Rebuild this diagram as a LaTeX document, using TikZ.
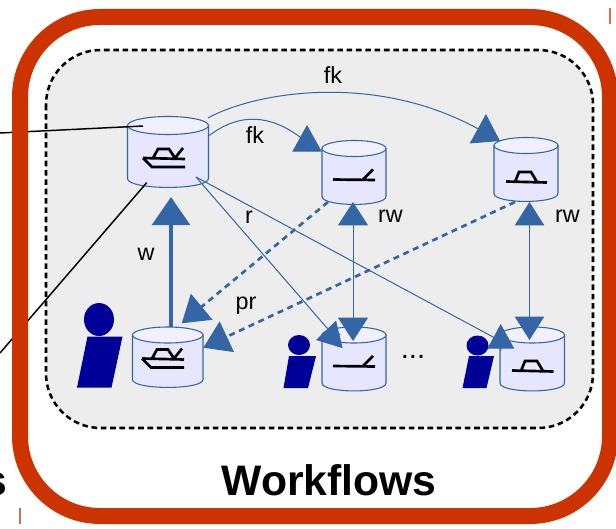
\documentclass[tikz,border=0pt]{standalone}
\usepackage{fontspec}
\setmainfont{Liberation Sans}
\usepackage{tikz}
\usetikzlibrary{arrows.meta}

\definecolor{framered}{HTML}{CC3300}
\definecolor{linkblue}{HTML}{3465A4}
\definecolor{userblue}{HTML}{000099}
\definecolor{panelgray}{HTML}{EDEDED}
\definecolor{dbbody}{HTML}{E6E6FF}
\definecolor{dbtop}{HTML}{F0F0FF}

\tikzset{
        dbline/.style={draw=linkblue, line width=.8pt},
        glyph/.style={line width=2pt, black},
        user/.style={fill=userblue, draw=none},
        link/.style={linkblue, line width=.75pt},
        dlink/.style={linkblue, line width=2pt, dash pattern=on 4.5pt off 3.5pt},
        bighead/.style={-{Triangle[length=19pt, width=25pt]}},
        lbl/.style={font=\fontsize{17.5}{19}\selectfont, inner sep=0, anchor=base},
}

% name, left, right, top, bottom, end height
\newcommand{\database}[6]{
        \draw[dbline, fill=dbbody] (#2,#4+#6/2) -- (#2,#5-#6/2) .. controls (#2,#5-#6/2+#6*.66) and (#3,#5-#6/2+#6*.66) .. (#3,#5-#6/2) -- (#3,#4+#6/2) -- cycle;
        \draw[dbline, fill=dbtop] ({(#2+#3)/2},{#4+#6/2}) ellipse ({(#3-#2)/2} and {#6/2});
        \coordinate (#1) at ({(#2+#3)/2},{(#4+#5)/2});
}

\begin{document}
\begin{tikzpicture}[x=.75pt, y=-.75pt]
        \useasboundingbox (0,0) rectangle (616,528);
        \fill[white] (0,0) rectangle (616,528);
        \draw[fill=panelgray, draw=black, line width=1.9pt, dash pattern=on 4.2pt off 2.8pt, rounded corners=41pt] (46,50) rectangle (593,428);

        \database{dbA}{127.5}{208.5}{116.5}{187.5}{18}
        \database{dbB}{322}{386}{140.5}{204.5}{16}
        \database{dbC}{494}{558}{137.5}{201.5}{16}
        \database{dbD}{132.5}{203}{327}{387.5}{16}
        \database{dbE}{322}{386}{327}{391}{16}
        \database{dbF}{500}{564.5}{327}{391}{16}

        \draw[glyph] (143,158) -- (185,159) (143,158) -- (152,167) -- (185,167) (153,158) -- (158,149) -- (169,149) -- (175,158) -- (183,148);
        \draw[glyph] (142,358.5) -- (184,359.5) (142,358.5) -- (151,367.5) -- (184,367.5) (152,358.5) -- (157,349.5) -- (168,349.5) -- (174,358.5) -- (182,348.5);
        \draw[glyph] (333,179.5) -- (375,180) (363,179.5) -- (373,169.5);
        \draw[glyph] (333,366) -- (375,366.5) (363,366) -- (373,356);
        \draw[glyph] (506,181.5) -- (547,182.5) (515,182) -- (519,172) -- (531,172) -- (537,182);
        \draw[glyph] (512,370.5) -- (553.5,371.5) (521,371) -- (525,361) -- (537,361) -- (543,371);

        \fill[user] (99,319.5) ellipse (15 and 16.5);
        \fill[user] (87.5,336.5) -- (122.5,336.5) -- (111.5,387.5) -- (77,387.5) -- cycle;
        \fill[user] (299,345) ellipse (11 and 10);
        \fill[user] (289,356) -- (316,356) -- (308,388) -- (283.5,388) -- cycle;
        \fill[user] (477.5,345.5) ellipse (11 and 10);
        \fill[user] (469,356) -- (494,356) -- (486.5,388) -- (462.5,388) -- cycle;

        \coordinate (fkOutA) at (208,118);
        \coordinate (fkOutB) at (208.5,136);
        \coordinate (rOut) at (196,177);
        \coordinate (fkC) at (500,141);
        \coordinate (fkB) at (307,125);
        \coordinate (fkBin) at (307,150);
        \coordinate (rwBtop) at (353,202);
        \coordinate (rwBbot) at (353,341);
        \coordinate (rwCtop) at (529.5,202);
        \coordinate (rwCbot) at (529.5,340);
        \coordinate (wFrom) at (171,327);
        \coordinate (wTo) at (171,197);
        \coordinate (prOutB) at (328,202);
        \coordinate (prOutC) at (515,202);
        \coordinate (prInA) at (181.7,323.3);
        \coordinate (prInB) at (203.3,347.7);
        \coordinate (rBend) at (327,328);
        \coordinate (rBase) at (339.7,334.3);
        \coordinate (rTip) at (316,340);
        \coordinate (sBend) at (494,337.5);
        \coordinate (sBase) at (500.8,349);
        \coordinate (sTip) at (500.7,324);

        \draw[link, bighead] (fkOutA) .. controls (255,92) and (375,72) .. (fkC);
        \draw[link, -{Triangle[length=20pt, width=22pt]}] (fkOutB) .. controls (240,112) and (270,115) .. (300,137) -- (fkBin) -- (fkB);
        \draw[link, {Triangle[length=17.5pt, width=22.5pt]}-{Triangle[length=17.5pt, width=22.5pt]}] (rwBtop) -- (rwBbot);
        \draw[link, {Triangle[length=17.5pt, width=22pt]}-{Triangle[length=17.5pt, width=22pt]}] (rwCtop) -- (rwCbot);
        \draw[linkblue, line width=3.6pt, -{Triangle[length=21pt, width=28pt]}] (wFrom) -- (wTo);
        \draw[dlink, -{Triangle[length=19.5pt, width=25pt]}] (prOutB) -- (prInA);
        \draw[dlink, -{Triangle[length=19.5pt, width=25pt]}] (prOutC) -- (prInB);
        \draw[link, -{Triangle[length=18pt, width=21pt]}] (rOut) -- (rBend) -- (rBase) -- (rTip);
        \draw[link, -{Triangle[length=18.5pt, width=20pt]}] (rOut) -- (sBend) -- (sBase) -- (sTip);

        \node[lbl] (fkTop) at (333,84) {fk};
        \node[lbl] (fkLow) at (255,143) {fk};
        \node[lbl] (rLabel) at (249,223) {r};
        \node[lbl] (wLabel) at (146,260) {w};
        \node[lbl] (rwB) at (390.5,222) {rw};
        \node[lbl] (rwC) at (567.5,222) {rw};
        \node[lbl] (prLabel) at (246,309) {pr};
        \node[lbl, font=\fontsize{22}{23}\selectfont] (dots) at (413,358.5) {...};

        \coordinate (feedA) at (0,133);
        \coordinate (feedB) at (0,353);
        \coordinate (feedAin) at (143,126);
        \coordinate (feedBin) at (146.7,182.7);
        \draw[black, line width=1.1pt] (feedA) -- (feedAin);
        \draw[black, line width=1.1pt] (feedB) -- (feedBin);

        \draw[framered, line width=12pt, rounded corners=60pt] (20,17) rectangle (610,516);
        \draw[framered!70, line width=.8pt] (20,508) -- (20,524);
        \draw[framered!70, line width=.8pt] (610,8) -- (610,24);

        \node[lbl, font=\fontsize{32}{34}\bfseries\selectfont] (title) at (329,495) {Workflows};
        \node[lbl, anchor=base east, font=\fontsize{32}{34}\bfseries\selectfont] (cutS) at (7.5,495) {s};
\end{tikzpicture}
\end{document}
